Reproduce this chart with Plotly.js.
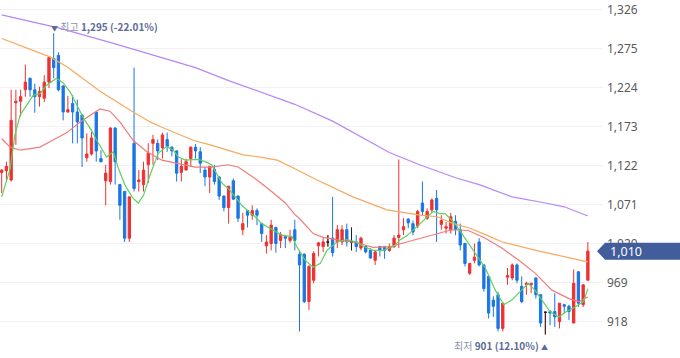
<!DOCTYPE html>
<html><head><meta charset="utf-8">
<script src="https://cdn.plot.ly/plotly-3.0.1.min.js"></script>
<style>html,body{margin:0;padding:0;background:#fff;}#chart{width:680px;height:358px;}</style>
</head><body><div id="chart"></div>
<script>
// ---- Candle data (one entry per trading day, oldest first) ----
const openP  = [1113,1115,1103,1204,1206,1221,1236,1221,1212,1210,1231,1262,1266,1226,1192,1203,1192,1188,1132,1137,1192,1131,1102,1101,1171,1097,1088,1027,1151,1101,1097,1123,1151,1151,1145,1156,1146,1141,1113,1116,1131,1146,1140,1116,1107,1117,1107,1082,1067,1102,1082,1038,1063,1057,1063,1046,1017,1020,1041,1024,1029,1024,1038,1006,1006,944,972,1017,1016,1022,1027,1022,1022,1038,1022,1022,1014,1016,1011,998,1016,1016,1011,1016,1028,1038,1052,1046,1043,1073,1053,1064,1079,1045,1040,1038,1049,1038,1020,981,998,1022,992,977,946,953,909,976,975,992,964,966,966,975,953,930,931,931,918,940,938,916,983,940,972];
const highP  = [1117,1127,1221,1221,1221,1254,1237,1229,1225,1240,1264,1295,1270,1227,1213,1214,1208,1189,1164,1166,1193,1142,1123,1172,1172,1098,1089,1081,1250,1116,1127,1151,1162,1156,1165,1165,1147,1142,1130,1131,1147,1150,1146,1120,1121,1123,1108,1083,1095,1105,1083,1060,1064,1070,1066,1047,1031,1051,1042,1035,1031,1038,1051,1011,1007,992,1010,1021,1027,1031,1081,1044,1044,1046,1041,1031,1029,1018,1014,1011,1017,1017,1020,1031,1130,1053,1053,1050,1064,1101,1066,1079,1090,1057,1048,1060,1057,1046,1021,994,1020,1027,993,978,951,957,942,988,994,994,977,970,968,976,954,931,933,955,942,941,940,986,984,966,1022];
const lowP   = [1086,1101,1101,1149,1186,1212,1212,1191,1199,1205,1223,1236,1219,1181,1191,1151,1151,1120,1127,1135,1127,1126,1070,1097,1097,1051,1022,1022,1088,1088,1088,1099,1123,1129,1131,1140,1134,1101,1101,1116,1120,1131,1112,1095,1086,1097,1077,1062,1046,1077,1048,1031,1041,1051,1044,1022,1007,1011,1008,1014,1014,1021,1011,905,942,933,968,1003,1009,1016,1003,1014,1018,1016,1011,1009,1011,1007,1000,992,1003,1000,1009,1014,1014,1031,1040,1031,1040,1057,1051,1060,1022,1038,1033,1033,1031,1011,990,979,994,990,957,922,924,905,905,966,972,968,942,953,955,948,911,901,913,911,909,929,920,916,937,937,972];
const closeP = [1116,1121,1181,1206,1212,1231,1221,1212,1219,1231,1263,1250,1221,1192,1195,1192,1179,1158,1137,1158,1141,1127,1112,1171,1127,1070,1027,1081,1092,1103,1116,1138,1156,1141,1162,1147,1141,1112,1121,1127,1146,1141,1125,1107,1121,1101,1082,1067,1095,1078,1053,1046,1057,1063,1057,1033,1022,1044,1020,1032,1027,1028,1024,992,944,990,1007,1021,1022,1022,1008,1038,1038,1022,1022,1016,1027,1009,1001,1009,1011,1011,1016,1027,1031,1042,1047,1035,1062,1062,1062,1077,1064,1050,1042,1055,1038,1018,994,994,1002,992,961,929,938,909,942,978,992,972,944,968,968,953,916,930,929,924,942,938,931,968,942,966,1010];

// ---- Moving averages (day position, value) ----
const ma5Day  = [0,1.8,2.8,3.9,5.3,6.7,8.1,9.5,11.6,13,14.5,15.9,17.3,19,20.1,22.2,23.6,24.7,26.1,27.8,28.9,30,31.4,33.1,34.9,36.3,37.4,38.8,41.6,43,44.4,46.6,47.9,49.4,50.8,52.2,53.6,55,57.1,59.2,61.4,62.4,64.2,65.9,67.4,68.8,70.9,73,75.1,76.5,78.6,80.7,82.9,84.3,85.7,87.1,89.2,91.3,92.7,93.8,95.9,98,100.2,102.3,104.4,106.2,107.9,110,111.4,112.8,114.2,116,117.8,119.5,121.3,123.1,124];
const ma5Val  = [1081,1118,1162,1188,1201,1214,1216,1227,1236,1230,1218,1201,1184,1168,1155,1133,1140,1118,1096,1079,1073,1083,1110,1138,1147,1142,1133,1129,1130,1127,1123,1099,1092,1081,1070,1062,1055,1046,1038,1031,1029,1016,998,989,994,1011,1022,1025,1022,1016,1011,1011,1016,1025,1030,1038,1051,1062,1059,1059,1046,1027,1007,988,959,940,946,959,968,959,946,931,924,931,937,944,961];
const ma20Day = [0,1.8,3.9,8.1,10.2,13.8,16.6,19.4,20.8,22.9,25,27.8,30.7,33.9,37.3,40.9,44.4,47.9,50,53.6,57.1,60,62,63.1,65.9,68,71.6,75.1,78.6,82.2,85.7,89.2,92.7,95.2,98.7,102.3,105.8,109.4,112.9,116.4,120,122.1,124];
const ma20Val = [1157,1146,1142,1146,1153,1165,1179,1191,1196,1193,1179,1155,1140,1129,1125,1120,1120,1123,1120,1105,1088,1073,1058,1052,1033,1028,1024,1021,1015,1016,1022,1028,1033,1038,1037,1027,1014,998,981,959,948,944,950];
const ma60Day = [0,10.2,13.8,20.8,27.8,31.4,33.5,40.5,44.1,51.1,54.7,58.3,61.6,66.7,74.3,81.5,88.5,92.1,95.5,99.1,103.3,105.9,113,120,124];
const ma60Val = [1288,1264,1251,1219,1192,1179,1173,1155,1149,1136,1133,1129,1119,1103,1081,1064,1057,1055,1046,1040,1029,1022,1011,1001,996];
const ma120Day = [0,12,24,36,41,48,55,62,70,74,82,88,96,101,108,115,119,124];
const ma120Val = [1319,1302,1281,1259,1250,1233,1218,1202,1180,1166,1139,1124,1106,1097,1081,1073,1068,1056];

const yTicks = [918,969,1020,1071,1122,1173,1224,1275,1326];

// ---- build ----
const fmt = v => v.toLocaleString('en-US');
const days = closeP.map((_, i) => i);
const dojiIdx = days.filter(i => openP[i] === closeP[i]);
const pick = (arr, idx) => idx.map(i => arr[i]);

const RED = '#ee3131', BLUE = '#1b76e4';
const traces = [
  {type:'candlestick', x:days, open:openP, high:highP, low:lowP, close:closeP,
   increasing:{line:{color:RED, width:1}, fillcolor:RED},
   decreasing:{line:{color:BLUE, width:1}, fillcolor:BLUE},
   whiskerwidth:0, hoverinfo:'skip', showlegend:false},
  {type:'candlestick', x:pick(days,dojiIdx), open:pick(openP,dojiIdx), high:pick(highP,dojiIdx), low:pick(lowP,dojiIdx), close:pick(closeP,dojiIdx),
   increasing:{line:{color:'#222', width:1}, fillcolor:'#222'},
   decreasing:{line:{color:'#222', width:1}, fillcolor:'#222'},
   whiskerwidth:0, hoverinfo:'skip', showlegend:false},
  {type:'scatter', mode:'lines', x:ma120Day, y:ma120Val, line:{color:'#b886f7', width:1.2}, hoverinfo:'skip', showlegend:false},
  {type:'scatter', mode:'lines', x:ma60Day, y:ma60Val, line:{color:'#f7a95e', width:1.2}, hoverinfo:'skip', showlegend:false},
  {type:'scatter', mode:'lines', x:ma20Day, y:ma20Val, line:{color:'#f47a7a', width:1.2}, hoverinfo:'skip', showlegend:false},
  {type:'scatter', mode:'lines', x:ma5Day, y:ma5Val, line:{color:'#5fd05f', width:1.2}, hoverinfo:'skip', showlegend:false}
];

const last = closeP.length - 1;
const hi = Math.max(...highP), hiI = highP.indexOf(hi);
const lo = Math.min(...lowP), loI = lowP.indexOf(lo);
const pctHi = ((closeP[last] - hi) / hi * 100).toFixed(2);
const pctLo = ((closeP[last] - lo) / lo * 100).toFixed(2);
const KFONT = '"Noto Sans CJK KR", "Noto Sans", sans-serif';

const layout = {
  width:680, height:358,
  margin:{l:0, r:77, t:0, b:0},
  paper_bgcolor:'#fff', plot_bgcolor:'#fff',
  showlegend:false,
  xaxis:{range:[-0.36,127.2], showgrid:false, zeroline:false, showticklabels:false, ticks:'', showline:false, rangeslider:{visible:false}, fixedrange:true},
  yaxis:{side:'right', range:[870.3,1338.4], tickvals:yTicks, ticktext:yTicks.map(fmt), showgrid:true, gridcolor:'#f0f0f6', gridwidth:1,
         zeroline:false, showline:false, ticks:'', ticklabelstandoff:3,
         tickfont:{family:'"Noto Sans", sans-serif', size:12, color:'#5a5a5a'}, fixedrange:true},
  shapes:[
    {type:'path', xref:'paper', yref:'y', xsizemode:'pixel', ysizemode:'pixel', xanchor:1, yanchor:closeP[last],
     path:'M -6,0 L 2,8.5 L 77,8.5 L 77,-8.5 L 2,-8.5 Z', fillcolor:'#425d9c', line:{width:0}, layer:'above'}
  ],
  annotations:[
    {x:1, xref:'paper', y:closeP[last], yref:'y', xanchor:'left', yanchor:'middle', xshift:5, showarrow:false,
     text:fmt(closeP[last]), font:{family:'"Noto Sans", sans-serif', size:12.5, color:'#fff'}},
    {x:hiI, y:hi, xref:'x', yref:'y', xanchor:'left', yanchor:'bottom', xshift:-5, yshift:-3, showarrow:false,
     text:'<span style="font-size:7px">▼</span> <span style="color:#8b94ae">최고</span> <b>'+fmt(hi)+' ('+pctHi+'%)</b>',
     font:{family:KFONT, size:10, color:'#5d6b98'}},
    {x:loI, y:lo, xref:'x', yref:'y', xanchor:'right', yanchor:'top', xshift:5, yshift:-1, showarrow:false,
     text:'<span style="color:#8b94ae">최저</span> <b>'+fmt(lo)+' ('+pctLo+'%)</b> <span style="font-size:7px">▲</span>',
     font:{family:KFONT, size:10, color:'#5d6b98'}}
  ]
};

Plotly.newPlot('chart', traces, layout, {displayModeBar:false, staticPlot:true});
</script>
</body></html>
